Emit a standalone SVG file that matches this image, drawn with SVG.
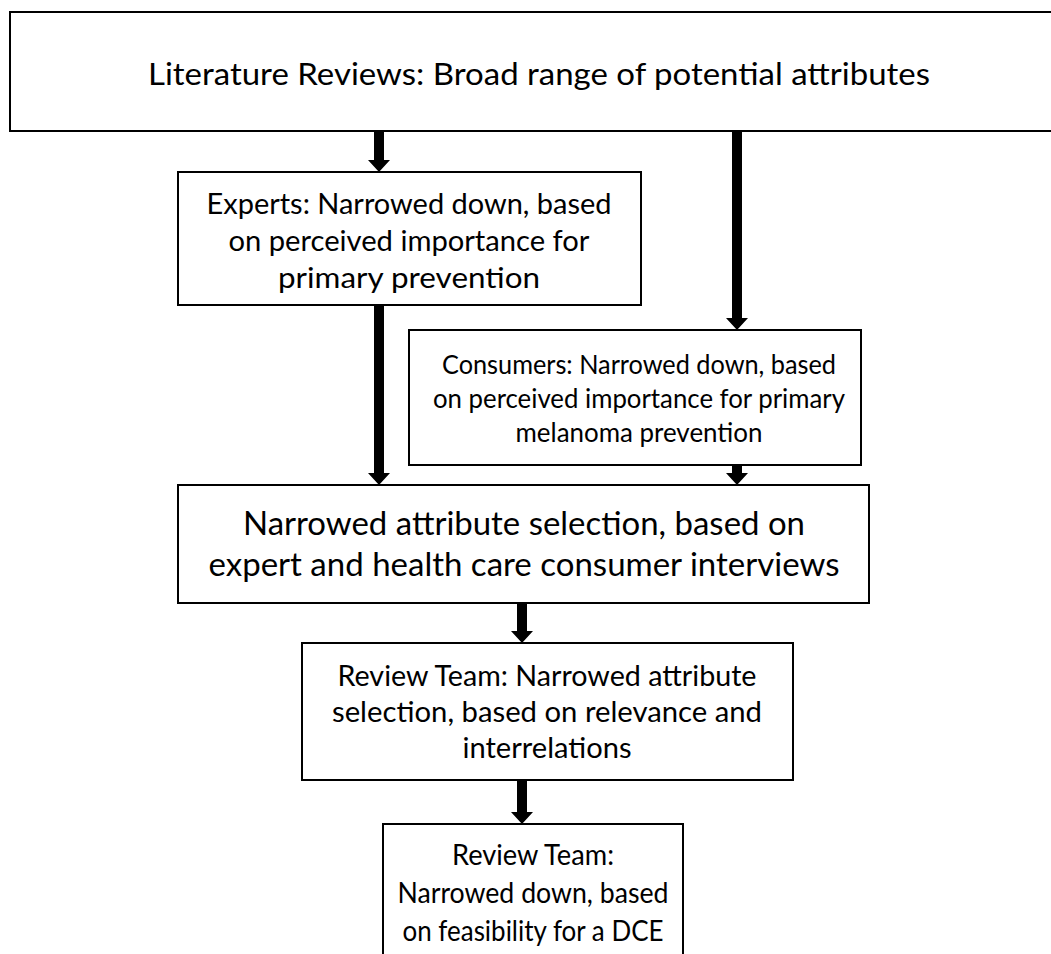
<svg xmlns="http://www.w3.org/2000/svg" width="1051" height="954" viewBox="0 0 1051 954">
<style>
.box{fill:#fff;stroke:#000;stroke-width:2}
.t{font-family:Lato,"Open Sans","Liberation Sans",sans-serif;fill:#000;text-anchor:middle}
.arr{fill:#000}
</style>
<rect width="1051" height="954" fill="#fff"/>
<g id="connectors">
<polygon class="arr" points="374,131 384,131 384,160 390,160 379,172 368,160 374,160"/>
<polygon class="arr" points="732,131 742,131 742,318 748,318 737,330 726,318 732,318"/>
<polygon class="arr" points="374,305 384,305 384,473 390,473 379,485 368,473 374,473"/>
<polygon class="arr" points="732,465 742,465 742,473 748,473 737,485 726,473 732,473"/>
<polygon class="arr" points="517,603 527,603 527,631 533,631 522,643 511,631 517,631"/>
<polygon class="arr" points="517,780 527,780 527,812 533,812 522,824 511,812 517,812"/>
</g>
<g id="literature">
<rect class="box" x="10" y="12" width="1050" height="119"/>
<text class="t" x="539" y="85" font-size="31" textLength="782" lengthAdjust="spacingAndGlyphs">Literature Reviews: Broad range of potential attributes</text>
</g>
<g id="experts">
<rect class="box" x="178" y="172" width="463" height="133"/>
<text class="t" x="409" y="214" font-size="29" textLength="405" lengthAdjust="spacingAndGlyphs">Experts: Narrowed down, based</text>
<text class="t" x="409" y="251" font-size="29" textLength="361" lengthAdjust="spacingAndGlyphs">on perceived importance for</text>
<text class="t" x="409" y="288" font-size="29" textLength="262" lengthAdjust="spacingAndGlyphs">primary prevention</text>
</g>
<g id="consumers">
<rect class="box" x="409" y="330" width="452" height="135"/>
<text class="t" x="639" y="374" font-size="26.5" textLength="394" lengthAdjust="spacingAndGlyphs">Consumers: Narrowed down, based</text>
<text class="t" x="639" y="408" font-size="26.5" textLength="412" lengthAdjust="spacingAndGlyphs">on perceived importance for primary</text>
<text class="t" x="639" y="442" font-size="26.5" textLength="247" lengthAdjust="spacingAndGlyphs">melanoma prevention</text>
</g>
<g id="narrowed">
<rect class="box" x="178" y="485" width="691" height="118"/>
<text class="t" x="524" y="535" font-size="33" textLength="562" lengthAdjust="spacingAndGlyphs">Narrowed attribute selection, based on</text>
<text class="t" x="524" y="576" font-size="33" textLength="631" lengthAdjust="spacingAndGlyphs">expert and health care consumer interviews</text>
</g>
<g id="review1">
<rect class="box" x="302" y="643" width="491" height="137"/>
<text class="t" x="547" y="686" font-size="29" textLength="419" lengthAdjust="spacingAndGlyphs">Review Team: Narrowed attribute</text>
<text class="t" x="547" y="722" font-size="29" textLength="430" lengthAdjust="spacingAndGlyphs">selection, based on relevance and</text>
<text class="t" x="547" y="758" font-size="29" textLength="169" lengthAdjust="spacingAndGlyphs">interrelations</text>
</g>
<g id="review2">
<rect class="box" x="383" y="824" width="300" height="140"/>
<text class="t" x="533" y="865" font-size="28" textLength="162" lengthAdjust="spacingAndGlyphs">Review Team:</text>
<text class="t" x="533" y="903" font-size="28" textLength="271" lengthAdjust="spacingAndGlyphs">Narrowed down, based</text>
<text class="t" x="533" y="941" font-size="28" textLength="261" lengthAdjust="spacingAndGlyphs">on feasibility for a DCE</text>
</g>
</svg>
